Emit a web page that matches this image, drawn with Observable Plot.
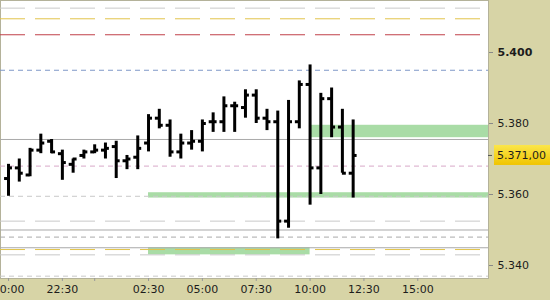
<!DOCTYPE html>
<html>
<head>
<meta charset="utf-8">
<script src="https://cdn.jsdelivr.net/npm/d3@7"></script>
<script src="https://cdn.jsdelivr.net/npm/@observablehq/plot@0.6"></script>
<style>
  html, body { margin: 0; padding: 0; background: #d7d4a6; }
  #chart svg { display: block; }
</style>
</head>
<body>
<div id="chart"></div>
<script>
// 30-minute OHLC bars, evening session through to midday
const times = ["20:00","20:30","21:00","21:30","22:00","22:30","23:00","23:30",
               "00:00","00:30","01:00","01:30","02:00","02:30","03:00","03:30",
               "04:00","04:30","05:00","05:30","06:00","06:30","07:00","07:30",
               "08:00","08:30","09:00","09:30","10:00","10:30","11:00","11:30","12:00"];
const open  = [5364.5,5367.5,5365.5,5372.5,5375,5371.5,5368.5,5371,
               5372,5372.5,5373.5,5369.5,5370.5,5374.5,5381.5,5379.5,
               5372,5374.5,5375,5380.5,5380.5,5385,5384.5,5388,
               5381.5,5380.5,5352.5,5380.5,5391,5367.5,5387,5379,5366];
const high  = [5368.5,5370,5373,5377,5375.5,5372.5,5370,5372.5,
               5374,5374.5,5375,5371,5376.5,5382.5,5384,5381,
               5377,5378,5381,5383,5387.5,5386,5389.5,5389.5,
               5384,5383.5,5386.5,5392,5396.5,5388.5,5390,5384,5381];
const low   = [5359.5,5363.5,5365,5371.5,5371.5,5364,5366,5370,
               5371.5,5370,5364.5,5367,5367,5372,5378.5,5370.5,
               5370,5372.5,5372,5377.5,5377.5,5377.5,5381.5,5380,
               5378,5347.5,5350.5,5378.5,5357,5360,5376,5366,5359];
const close = [5367.5,5366,5372.5,5374.5,5372,5369,5370,5372,
               5372.5,5373,5369.5,5370,5373,5381.5,5379.5,5372,
               5374.5,5375,5380,5380.5,5385,5385,5388,5381.5,
               5380.5,5352.5,5380.5,5391,5367.5,5387,5379,5366,5371];

// Horizontal reference levels and their kind
const levelPrices = [5412.5, 5409.5, 5405, 5395, 5375.5, 5368, 5359.5,
                     5352.5, 5350, 5348, 5345, 5344.5, 5343, 5337];
const levelKinds  = ["outer", "weekly", "monthly", "daily", "close", "pivot", "support",
                     "outer", "close", "band", "close", "weekly", "outer", "support"];

// Shaded price zones: start time, end time (null = open to the right), bounds
const zoneStart = ["10:00", "02:30", "02:30"];
const zoneEnd   = [null, null, "10:00"];
const zoneLow   = [5376, 5359, 5343];
const zoneHigh  = [5379.5, 5360.5, 5345];

// Axis ticks
const priceTicks = [5340, 5360, 5380, 5400];
const timeTicks = ["20:00","22:30","00:00","02:30","05:00","07:30","10:00","12:30","15:00"];

// ---- helpers ----
const toDate = (s) => {
  const [h, m] = s.split(":").map(Number);
  return new Date(Date.UTC(2024, 0, h >= 18 ? 1 : 2, h, m));
};
const MIN = 60 * 1000;
const locale = d3.formatLocale({decimal: ",", thousands: ".", grouping: [3], currency: ["", ""]});
const fmtPrice = locale.format(",");
const fmtLast = locale.format(",.2f");

const bars = times.map((t, i) => ({t: toDate(t), open: open[i], high: high[i], low: low[i], close: close[i]}));
const xDomain = [new Date(Date.UTC(2024, 0, 1, 19, 37, 40)), new Date(Date.UTC(2024, 0, 2, 18, 17))];
const zones = zoneStart.map((s, i) => ({
  x1: toDate(s), x2: zoneEnd[i] ? toDate(zoneEnd[i]) : xDomain[1], y1: zoneLow[i], y2: zoneHigh[i]
}));
const levels = levelPrices.map((p, i) => ({price: p, kind: levelKinds[i]}));

const levelStyle = {
  outer:   {stroke: "#c9c9c9", dash: "25,10", width: 1},
  weekly:  {stroke: "#e2c44a", dash: "25,10", width: 1},
  monthly: {stroke: "#c0404a", dash: "25,10", width: 1},
  daily:   {stroke: "#7f98c8", dash: "5,4",   width: 1},
  close:   {stroke: "#a9a9a9", dash: null,    width: 1},
  pivot:   {stroke: "#d8a8c8", dash: "5,4",   width: 1},
  support: {stroke: "#c9c9c9", dash: "5,4",   width: 1},
  band:    {stroke: "#a9a9a9", dash: "5,4",   width: 1}
};

const levelMarks = Object.entries(levelStyle).map(([kind, s]) =>
  Plot.ruleY(levels.filter(d => d.kind === kind), {
    y: "price", stroke: s.stroke, strokeWidth: s.width,
    strokeDasharray: s.dash ?? undefined
  })
);

const chart = Plot.plot({
  width: 550,
  height: 300,
  marginLeft: 0,
  marginTop: 0,
  marginRight: 62,
  marginBottom: 22,
  style: {background: "#d7d4a6", fontFamily: "DejaVu Sans", fontSize: "11px", color: "#1c1c1c"},
  x: {type: "utc", domain: xDomain},
  y: {domain: [5336.34, 5414.65]},
  marks: [
    Plot.frame({fill: "white", stroke: "#b4b29a"}),
    Plot.rect(zones, {x1: "x1", x2: "x2", y1: "y1", y2: "y2", fill: "#a9dca6"}),
    ...levelMarks,
    Plot.ruleX(bars, {x: "t", y1: "low", y2: "high", stroke: "black", strokeWidth: 3}),
    Plot.ruleY(bars, {y: "open", x1: d => new Date(+d.t - 11 * MIN), x2: "t", stroke: "black", strokeWidth: 3}),
    Plot.ruleY(bars, {y: "close", x1: "t", x2: d => new Date(+d.t + 11 * MIN), stroke: "black", strokeWidth: 3}),
    Plot.axisY(priceTicks.filter(v => v % 100 !== 0), {
      anchor: "right", tickSize: 4, tickPadding: 5, tickFormat: fmtPrice,
      stroke: "#888", fill: "#1c1c1c", fontSize: 11
    }),
    Plot.axisY(priceTicks.filter(v => v % 100 === 0), {
      anchor: "right", tickSize: 4, tickPadding: 5, tickFormat: fmtPrice,
      stroke: "#888", fill: "#1c1c1c", fontSize: 11, fontWeight: "bold"
    }),
    Plot.axisX(timeTicks.map(toDate), {
      tickSize: 3, tickPadding: 4,
      tickFormat: d => (d.getUTCHours() === 0 && d.getUTCMinutes() === 0) ? "" : d3.utcFormat("%H:%M")(d),
      stroke: "#999", fill: "#1c1c1c", fontSize: 11
    })
  ]
});

// Last-price tag on the price axis
const last = close[close.length - 1];
const yLast = chart.scale("y").apply(last);
const svg = d3.select(chart);
const defs = svg.append("defs");
const grad = defs.append("linearGradient").attr("id", "tagGrad").attr("x1", 0).attr("x2", 0).attr("y1", 0).attr("y2", 1);
grad.append("stop").attr("offset", "0%").attr("stop-color", "#fbe64a");
grad.append("stop").attr("offset", "100%").attr("stop-color", "#f0c400");
svg.append("line").attr("x1", 488).attr("x2", 492).attr("y1", yLast + 0.5).attr("y2", yLast + 0.5).attr("stroke", "#555");
svg.append("rect").attr("x", 494).attr("y", yLast - 10).attr("width", 56).attr("height", 20).attr("fill", "url(#tagGrad)");
svg.append("text").attr("x", 497).attr("y", yLast).attr("dy", "0.36em")
  .attr("text-anchor", "start")
  .attr("font-family", "DejaVu Sans").attr("font-size", 11).attr("fill", "#1c1c1c")
  .text(fmtLast(last));

document.getElementById("chart").appendChild(chart);
</script>
</body>
</html>
